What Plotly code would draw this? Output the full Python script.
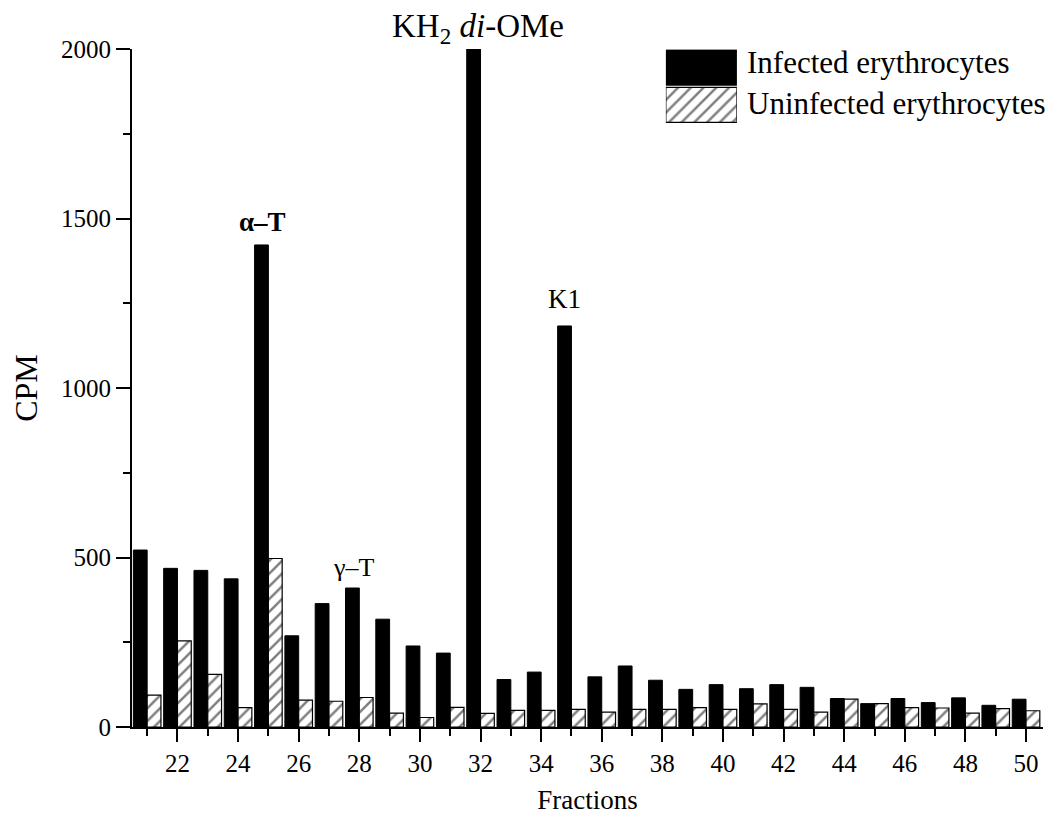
import plotly.graph_objects as go

fractions = list(range(21, 51))
infected = [522, 468, 462, 437, 1422, 269, 364, 410, 318, 239, 218, 2000, 140, 162, 1183,
            148, 180, 138, 111, 125, 113, 125, 117, 84, 69, 84, 72, 86, 64, 82]
uninfected = [94, 254, 155, 57, 497, 79, 76, 87, 41, 28, 58, 40, 49, 49, 52,
              44, 52, 52, 57, 52, 68, 52, 44, 82, 69, 57, 56, 41, 54, 48]
series_names = ["Infected erythrocytes", "Uninfected erythrocytes"]
x_tickvals = list(range(22, 51, 2))
y_tickvals = [0, 500, 1000, 1500, 2000]

FONT = "Liberation Serif, Times New Roman, serif"
HATCH = dict(shape="/", fgcolor="black", bgcolor="white", size=9, solidity=0.28)

fig = go.Figure()
fig.add_trace(go.Bar(
    x=fractions, y=infected, name=series_names[0],
    marker=dict(color="black", line=dict(color="black", width=1)),
    showlegend=False,
))
fig.add_trace(go.Bar(
    x=fractions, y=uninfected, name=series_names[1],
    marker=dict(color="white", line=dict(color="black", width=1.2), pattern=HATCH),
    showlegend=False,
))

# legend boxes drawn as an inset of horizontal bars
fig.add_trace(go.Bar(
    x=[1], y=[1.5], orientation="h", width=0.94, base=0,
    marker=dict(color="black", line=dict(color="black", width=1)),
    xaxis="x2", yaxis="y2", showlegend=False, hoverinfo="skip",
))
fig.add_trace(go.Bar(
    x=[1], y=[0.5], orientation="h", width=0.94, base=0,
    marker=dict(color="white", line=dict(color="black", width=1.2), pattern=HATCH),
    xaxis="x2", yaxis="y2", showlegend=False, hoverinfo="skip",
))

annotations = [
    dict(x=24.8, y=infected[4], text="<b>α–T</b>", yanchor="bottom", yshift=6, font_size=27),
    dict(x=27.8, y=infected[7], text="γ–T", yanchor="bottom", yshift=4, font_size=26),
    dict(x=34.78, y=infected[14], text="K1", yanchor="bottom", yshift=10, font_size=27),
    dict(x=31.92, y=infected[11], text="KH<sub>2</sub> <i>di</i>-OMe", yanchor="bottom", yshift=-2,
         font_size=33),
]
anns = []
for a in annotations:
    d = dict(xref="x", yref="y", showarrow=False, xanchor="center",
             font=dict(family=FONT, size=a.pop("font_size", 25), color="black"))
    d.update(a)
    anns.append(d)
anns.append(dict(xref="paper", yref="paper", x=0.673, y=0.98, text=series_names[0],
                 showarrow=False, xanchor="left", yanchor="middle",
                 font=dict(family=FONT, size=31, color="black")))
anns.append(dict(xref="paper", yref="paper", x=0.673, y=0.92, text=series_names[1],
                 showarrow=False, xanchor="left", yanchor="middle",
                 font=dict(family=FONT, size=31, color="black")))

fig.update_layout(
    width=1063, height=823,
    margin=dict(l=124, r=28, t=41, b=104),
    plot_bgcolor="white", paper_bgcolor="white",
    barmode="group", bargap=0.09, bargroupgap=0.0,
    font=dict(family=FONT, color="black"),
    annotations=anns,
    xaxis=dict(
        range=[20.5, 50.56], tickvals=x_tickvals, ticks="outside", ticklen=13, tickwidth=2,
        tickcolor="black", showline=True, linecolor="black", linewidth=2, showgrid=False,
        zeroline=False, automargin=False, tickfont=dict(family=FONT, size=25, color="black"),
        minor=dict(dtick=1, tick0=21, ticks="outside", ticklen=7, tickwidth=2, tickcolor="black"),
        title=dict(text="Fractions", font=dict(family=FONT, size=27, color="black"), standoff=14),
    ),
    yaxis=dict(
        range=[0, 2000], tickvals=y_tickvals, ticks="outside", ticklen=14, tickwidth=2,
        tickcolor="black", showline=True, linecolor="black", linewidth=2, showgrid=False,
        zeroline=False, automargin=False, tickfont=dict(family=FONT, size=25, color="black"),
        minor=dict(dtick=250, tick0=0, ticks="outside", ticklen=7, tickwidth=2, tickcolor="black"),
        title=dict(text="CPM", font=dict(family=FONT, size=32, color="black"), standoff=16),
    ),
    xaxis2=dict(domain=[0.586, 0.664], range=[0, 1], visible=False, fixedrange=True),
    yaxis2=dict(domain=[0.89, 1.0], range=[0, 2], visible=False, fixedrange=True),
)

fig.write_html("out.html")
